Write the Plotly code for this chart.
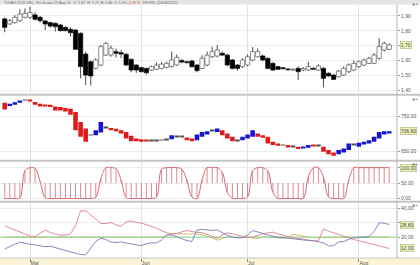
import plotly.graph_objects as go

# ---------------- data ----------------
month_labels = ["Mai", "Jun", "Jul", "Aug"]
month_pos = [5, 27, 48, 70]

c_open = [1.880, 1.846, 1.855, 1.868, 1.891, 1.891, 1.907, 1.891, 1.866, 1.855,
          1.850, 1.839, 1.823, 1.810, 1.805, 1.783, 1.643, 1.591, 1.546, 1.569,
          1.636, 1.636, 1.659, 1.652, 1.641, 1.607, 1.569, 1.551, 1.546, 1.535,
          1.540, 1.546, 1.553, 1.558, 1.569, 1.599, 1.591, 1.596, 1.569, 1.546,
          1.569, 1.625, 1.630, 1.648, 1.636, 1.603, 1.569, 1.558, 1.569, 1.603,
          1.625, 1.630, 1.614, 1.580, 1.558, 1.551, 1.542, 1.535, 1.546, 1.535,
          1.535, 1.546, 1.535, 1.546, 1.513, 1.501, 1.490, 1.501, 1.524, 1.535,
          1.558, 1.569, 1.580, 1.580, 1.614, 1.670, 1.675]
c_high = [1.891, 1.880, 1.905, 1.945, 1.950, 1.960, 1.925, 1.900, 1.873, 1.862,
          1.857, 1.846, 1.830, 1.823, 1.812, 1.790, 1.660, 1.600, 1.615, 1.705,
          1.725, 1.700, 1.680, 1.670, 1.650, 1.615, 1.575, 1.558, 1.552, 1.565,
          1.585, 1.590, 1.592, 1.660, 1.640, 1.610, 1.600, 1.605, 1.575, 1.635,
          1.660, 1.693, 1.704, 1.660, 1.645, 1.610, 1.575, 1.615, 1.640, 1.690,
          1.680, 1.640, 1.620, 1.590, 1.565, 1.556, 1.548, 1.547, 1.560, 1.555,
          1.591, 1.555, 1.575, 1.555, 1.520, 1.507, 1.535, 1.560, 1.580, 1.600,
          1.600, 1.612, 1.625, 1.650, 1.750, 1.728, 1.715]
c_low = [1.790, 1.840, 1.848, 1.860, 1.885, 1.880, 1.870, 1.855, 1.805, 1.820,
         1.795, 1.795, 1.795, 1.760, 1.670, 1.479, 1.434, 1.430, 1.540, 1.560,
         1.630, 1.625, 1.620, 1.615, 1.560, 1.520, 1.515, 1.520, 1.505, 1.530,
         1.535, 1.540, 1.545, 1.552, 1.563, 1.580, 1.578, 1.550, 1.520, 1.540,
         1.560, 1.615, 1.620, 1.630, 1.560, 1.540, 1.530, 1.550, 1.560, 1.595,
         1.620, 1.595, 1.540, 1.530, 1.535, 1.538, 1.532, 1.528, 1.468, 1.528,
         1.530, 1.535, 1.530, 1.418, 1.490, 1.468, 1.485, 1.495, 1.515, 1.530,
         1.550, 1.563, 1.575, 1.575, 1.605, 1.660, 1.670]
c_close = [1.823, 1.868, 1.891, 1.913, 1.918, 1.923, 1.877, 1.868, 1.846, 1.832,
           1.828, 1.801, 1.801, 1.787, 1.675, 1.558, 1.501, 1.495, 1.603, 1.693,
           1.715, 1.682, 1.648, 1.643, 1.569, 1.535, 1.535, 1.524, 1.517, 1.558,
           1.569, 1.575, 1.580, 1.603, 1.621, 1.589, 1.585, 1.558, 1.531, 1.614,
           1.636, 1.659, 1.670, 1.636, 1.569, 1.546, 1.546, 1.603, 1.625, 1.659,
           1.659, 1.603, 1.546, 1.535, 1.540, 1.544, 1.537, 1.540, 1.524, 1.546,
           1.558, 1.540, 1.562, 1.479, 1.495, 1.472, 1.528, 1.546, 1.569, 1.580,
           1.591, 1.603, 1.614, 1.636, 1.693, 1.715, 1.704]

ha_open = [787.8, 778.4, 782.2, 787.8, 794.4, 795.0, 790.0, 785.0, 782.0, 782.0,
           777.5, 775.6, 772.7, 770.8, 761.4, 733.0, 714.2, 696.0, 695.3, 702.9,
           717.0, 716.0, 714.0, 709.5, 704.8, 693.4, 685.9, 684.0, 681.0, 680.0,
           679.5, 680.5, 681.0, 684.0, 691.0, 690.6, 688.7, 686.0, 681.2, 690.6,
           697.0, 707.0, 704.8, 709.5, 700.0, 690.6, 681.0, 681.2, 686.0, 690.6,
           700.0, 695.3, 690.6, 676.4, 671.7, 667.0, 667.0, 662.0, 662.3, 657.6,
           659.4, 667.0, 665.0, 662.3, 652.8, 646.2, 640.6, 646.2, 652.8, 667.0,
           662.3, 668.9, 671.7, 676.4, 685.9, 697.2, 701.9]
ha_close = [769.0, 785.0, 789.7, 794.4, 795.0, 793.0, 782.0, 780.0, 779.0, 775.6,
            766.0, 766.0, 763.3, 753.8, 709.5, 690.6, 676.4, 695.0, 709.5, 733.0,
            717.0, 709.5, 706.6, 700.0, 685.9, 678.3, 678.3, 676.4, 679.0, 679.5,
            680.5, 681.0, 682.0, 695.3, 690.6, 689.7, 681.2, 678.3, 697.2, 704.8,
            706.6, 706.6, 714.2, 695.3, 685.9, 678.3, 680.0, 690.6, 697.2, 709.5,
            690.6, 687.8, 671.7, 667.0, 665.1, 666.0, 662.3, 661.0, 655.7, 662.3,
            667.0, 665.0, 664.0, 648.1, 640.6, 636.8, 652.8, 657.6, 671.7, 668.0,
            673.6, 676.4, 681.2, 690.6, 704.8, 706.6, 706.6]

osc = [0, 0, 0, 2, 90, 100, 98, 55, 3, 0, 0, 0, 0, 0, 0, 0, 0, 0, 4, 65,
       100, 100, 97, 60, 3, 0, 0, 0, 0, 0, 5, 95, 100, 100, 100, 95, 60, 5, 0, 60,
       100, 100, 100, 85, 20, 0, 0, 0, 5, 90, 100, 100, 90, 20, 0, 0, 0, 0, 0, 0,
       70, 100, 100, 70, 5, 0, 0, 0, 60, 100, 100, 100, 100, 100, 100, 100, 100]

di_minus = [27.9, 26.5, 24.9, 23.2, 21.9, 20.7, 20.3, 22.6, 24.9, 23.2,
            22.0, 21.3, 21.4, 22.2, 28.0, 38.5, 38.6, 35.5, 32.5, 29.5,
            29.5, 30.2, 28.5, 27.6, 30.5, 31.2, 30.3, 29.8, 28.7, 27.6,
            26.2, 24.5, 23.0, 22.3, 22.6, 23.6, 24.6, 23.8, 23.6, 23.0,
            22.0, 20.5, 19.0, 21.5, 23.0, 22.3, 21.3, 20.2, 19.6, 19.9,
            21.3, 22.3, 23.0, 23.5, 22.3, 21.2, 20.3, 19.6, 19.0, 18.2,
            17.9, 17.4, 17.3, 25.8, 24.2, 23.0, 21.5, 20.3, 19.2, 18.3,
            17.4, 16.5, 15.7, 14.9, 14.0, 13.0, 12.0]
di_plus = [11.6, 13.4, 15.0, 16.4, 15.5, 15.0, 14.5, 14.1, 13.2, 13.6,
           12.5, 11.3, 10.5, 9.6, 8.7, 7.8, 7.5, 12.0, 17.0, 19.2,
           18.3, 16.5, 16.2, 16.6, 15.8, 15.0, 14.5, 14.0, 15.3, 15.9,
           15.9, 18.0, 21.5, 21.5, 20.3, 19.0, 17.5, 17.0, 25.0, 25.5,
           25.0, 24.6, 25.1, 23.0, 21.2, 20.0, 19.4, 19.6, 21.5, 24.6,
           23.5, 22.3, 21.2, 20.5, 20.0, 19.6, 19.1, 18.4, 18.0, 17.7,
           17.6, 17.4, 16.9, 15.9, 13.8, 14.0, 16.6, 16.8, 18.5, 19.4,
           19.6, 19.8, 20.3, 24.0, 30.0, 29.8, 28.8]
adx = [20.0, 20.0, 20.0, 20.0, 20.0, 20.0, 20.0, 20.0, 20.0, 20.0,
       20.0, 20.0, 20.0, 20.0, 20.0, 20.0, 20.0, 20.0, 20.0, 20.0,
       20.0, 20.0, 20.0, 20.0, 20.0, 20.0, 20.0, 20.0, 20.0, 20.0,
       20.0, 20.0, 21.0, 22.0, 22.3, 22.3, 22.2, 22.3, 22.1, 21.5,
       20.7, 19.3, 17.9, 19.0, 20.0, 19.8, 19.6, 19.7, 20.0, 19.3,
       19.0, 20.3, 20.3, 19.8, 19.4, 19.0, 19.8, 22.0, 21.5, 20.5,
       20.0, 19.6, 19.4, 19.6, 19.8, 19.9, 20.0, 20.0, 20.0, 20.0,
       20.0, 20.0, 20.0, 20.0, 20.0, 20.0, 20.0]
adx_level = 20

header_text = ("TUI AG (TUI1.DE) - Fin du jour 23 Aug 13 - O: 1,67  H: 1,71  B: 1,66  C: 1,70 "
               "<span style='color:#d04020'>+1,70 %</span>  199 891  (23/08/2013)")

# ---------------- figure ----------------
N = len(c_close)
xs = list(range(N))
H = 265.0
XR = [-0.93, 77.53]
XD = [0, 397 / 420]


def dom(top_px, bot_px):
    return [1 - bot_px / H, 1 - top_px / H]


def fmt(v):
    return f"{v:.2f}".replace(".", ",")


fig = go.Figure()

# panel 1: candles (wicks split so they do not cross the bodies)
wx, wy = [], []
for i in xs:
    lo_b = min(c_open[i], c_close[i])
    hi_b = max(c_open[i], c_close[i])
    wx += [i, i, None, i, i, None]
    wy += [c_low[i], lo_b, None, hi_b, c_high[i], None]
fig.add_trace(go.Scatter(x=wx, y=wy, mode="lines", line=dict(color="#4a4a4a", width=1),
                         xaxis="x", yaxis="y", hoverinfo="skip"))
up = [c >= o for o, c in zip(c_open, c_close)]
fig.add_trace(go.Bar(
    x=xs, y=[max(abs(c - o), 0.004) for o, c in zip(c_open, c_close)],
    base=[min(o, c) for o, c in zip(c_open, c_close)], width=0.84, opacity=1,
    marker=dict(color=["#ffffff" if u else "#000000" for u in up], opacity=1,
                line=dict(color=["#5e5e5e" if u else "#000000" for u in up], width=0.7)),
    xaxis="x", yaxis="y", hoverinfo="skip"))

# panel 2: coloured boxes
def box_col(o, c):
    if abs(c - o) < 1.6:
        return "#505050"
    return "#1414d2" if c > o else "#e01a1a"

fig.add_trace(go.Bar(
    x=xs, y=[max(abs(c - o), 2.2) for o, c in zip(ha_open, ha_close)],
    base=[min(o, c) for o, c in zip(ha_open, ha_close)], width=0.9, opacity=1,
    marker=dict(color=[box_col(o, c) for o, c in zip(ha_open, ha_close)], line=dict(width=0)),
    xaxis="x2", yaxis="y2", hoverinfo="skip"))

# panel 3: oscillator stems
sx, sy = [], []
for i in xs:
    sx += [i, i, None]
    sy += [50, osc[i], None]
fig.add_trace(go.Scatter(x=sx, y=sy, mode="lines", line=dict(color="#d46a72", width=0.8),
                         xaxis="x3", yaxis="y3", hoverinfo="skip"))
fig.add_trace(go.Scatter(x=xs, y=osc, mode="lines", line=dict(color="#d46a72", width=1, shape="spline"),
                         xaxis="x3", yaxis="y3", hoverinfo="skip"))

# panel 4: DMI / ADX
fig.add_trace(go.Scatter(x=xs, y=adx, mode="lines", line=dict(color="#c8c07a", width=1),
                         xaxis="x4", yaxis="y4", hoverinfo="skip"))
fig.add_trace(go.Scatter(x=[XR[0], XR[1]], y=[adx_level, adx_level], mode="lines",
                         line=dict(color="#8ad68a", width=1), xaxis="x4", yaxis="y4", hoverinfo="skip"))
fig.add_trace(go.Scatter(x=xs, y=di_minus, mode="lines", line=dict(color="#de7f90", width=0.9),
                         xaxis="x4", yaxis="y4", hoverinfo="skip"))
fig.add_trace(go.Scatter(x=xs, y=di_plus, mode="lines", line=dict(color="#7878b8", width=0.9),
                         xaxis="x4", yaxis="y4", hoverinfo="skip"))

tickfont = dict(size=5, color="#555555", family="Liberation Sans, Arial")
xcommon = dict(range=XR, domain=XD, tickvals=month_pos, ticktext=month_labels, showgrid=True,
               gridcolor="#e2e2e2", gridwidth=1, zeroline=False, showline=False, fixedrange=True)
ycommon = dict(side="right", showgrid=True, gridcolor="#ececec", zeroline=False, ticks="outside",
               ticklen=2, tickcolor="#999999", tickfont=tickfont, showline=False)

p1_ticks = [1.4, 1.5, 1.6, 1.7, 1.8, 1.9]
p2_ticks = [650, 750]
p3_ticks = [0, 50, 100]
p4_ticks = [20, 30, 40]


def labels(vals, hidden):
    return ["" if abs(v - hidden) < 1e-9 else fmt(v) for v in vals]


layout = dict(
    width=420, height=265, margin=dict(l=0, r=0, t=0, b=0),
    paper_bgcolor="#ffffff", plot_bgcolor="#ffffff", showlegend=False, separators=", ",
    barmode="overlay",
    xaxis=dict(**xcommon, anchor="y", showticklabels=False),
    xaxis2=dict(**xcommon, anchor="y2", showticklabels=False, matches="x"),
    xaxis3=dict(**xcommon, anchor="y3", showticklabels=False, matches="x"),
    xaxis4=dict(**xcommon, anchor="y4", showticklabels=True, matches="x", ticks="outside",
                ticklen=3, tickcolor="#888888", tickfont=tickfont, ticklabelposition="outside right"),
    yaxis=dict(**ycommon, domain=dom(5, 93), range=[1.380, 1.974], anchor="x",
               tickvals=p1_ticks, ticktext=labels(p1_ticks, 1.7)),
    yaxis2=dict(**ycommon, domain=dom(96.5, 160), range=[624.5, 805.8], anchor="x2",
                tickvals=p2_ticks, ticktext=labels(p2_ticks, -1)),
    yaxis3=dict(**ycommon, domain=dom(161.5, 201), range=[-8, 120], anchor="x3",
                tickvals=p3_ticks, ticktext=labels(p3_ticks, 100)),
    yaxis4=dict(**ycommon, domain=dom(202.5, 258), range=[5.3, 44.3], anchor="x4",
                tickvals=p4_ticks, ticktext=labels(p4_ticks, 30)),
)
fig.update_layout(**layout)

shapes = []
shapes.append(dict(type="rect", xref="paper", yref="paper", x0=0, x1=1, y0=1 - 4.5 / H, y1=1,
                   fillcolor="#e4e4e4", line=dict(width=0), layer="below"))
shapes.append(dict(type="rect", xref="paper", yref="paper", x0=0, x1=1, y0=0, y1=7 / H,
                   fillcolor="#fbf5d6", line=dict(width=0), layer="below"))
for ypx in [94.8, 160.7, 201.8]:
    shapes.append(dict(type="line", xref="paper", yref="paper", x0=0, x1=1, y0=1 - ypx / H, y1=1 - ypx / H,
                       line=dict(color="#c4c4c4", width=2)))
shapes.append(dict(type="line", xref="paper", yref="paper", x0=0, x1=1, y0=7 / H, y1=7 / H,
                   line=dict(color="#c8c8c8", width=1)))
shapes.append(dict(type="line", xref="paper", yref="paper", x0=XD[1], x1=XD[1], y0=7 / H, y1=1 - 4.5 / H,
                   line=dict(color="#b4b4b4", width=1)))
fig.update_layout(shapes=shapes)

ann = []
ann.append(dict(x=0.004, y=1 + 0.8 / H, xref="paper", yref="paper", xanchor="left", yanchor="top",
                text=header_text, showarrow=False, font=dict(size=3.6, color="#666666",
                                                             family="Liberation Sans, Arial")))
box = dict(xref="paper", xanchor="left", showarrow=False, bgcolor="#eef4bc", bordercolor="#a4a46c",
           borderwidth=0.5, borderpad=0.3, font=dict(size=5, color="#444444", family="Liberation Sans, Arial"))
ann.append(dict(**box, x=XD[1] + 0.006, y=c_close[-1], yref="y", text=fmt(c_close[-1])))
ann.append(dict(**box, x=XD[1] + 0.006, y=ha_close[-1], yref="y2", text=fmt(ha_close[-1])))
ann.append(dict(**box, x=XD[1] + 0.006, y=osc[-1], yref="y3", text=fmt(osc[-1])))
ann.append(dict(**box, x=XD[1] + 0.006, y=di_plus[-1], yref="y4", text=fmt(di_plus[-1])))
ann.append(dict(**box, x=XD[1] + 0.006, y=di_minus[-1], yref="y4", text=fmt(di_minus[-1])))
for ypx in [0.2, 95.2, 160.4, 201.2]:
    ann.append(dict(x=1, y=1 - ypx / H, xref="paper", yref="paper", xanchor="right", yanchor="top",
                    text="◪▲", showarrow=False, font=dict(size=3, color="#777777")))
fig.update_layout(annotations=ann)

fig.write_html("out.html")
